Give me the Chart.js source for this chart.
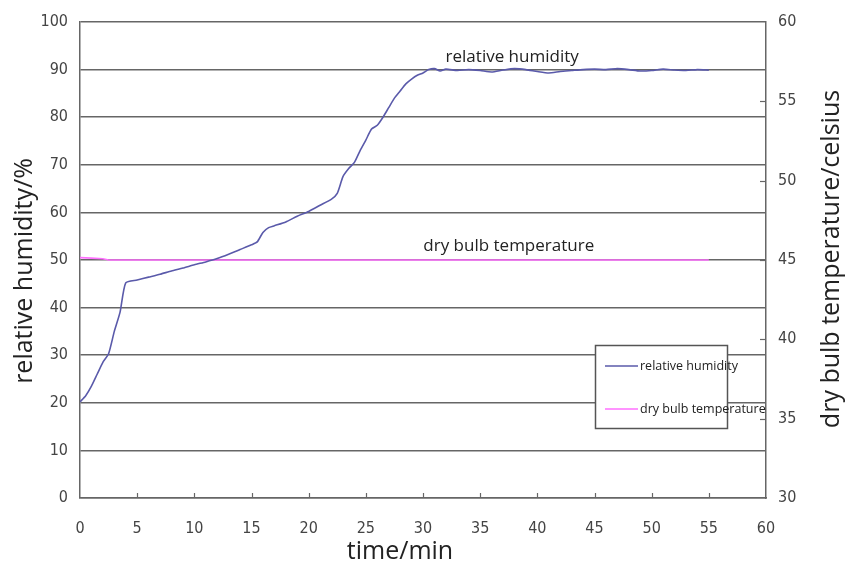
<!DOCTYPE html>
<html>
<head>
<meta charset="utf-8">
<script src="https://cdn.jsdelivr.net/npm/chart.js@4/dist/chart.umd.min.js"></script>
<style>
  html, body { margin: 0; background: #fff; }
  canvas { display: block; }
</style>
</head>
<body>
<canvas id="chart" width="850" height="570"></canvas>
<script>
/* data */
const TIME_RH = [0, 0.5, 1, 1.5, 2, 2.5, 3, 3.5, 4, 5, 6, 7, 8, 9, 10, 11, 12, 13, 14, 15,
  15.5, 16, 16.5, 17, 18, 19, 20, 21, 22, 22.5, 23, 23.5, 24, 24.5, 25, 25.5, 26, 26.5,
  27, 27.5, 28, 28.5, 29, 29.5, 30, 30.5, 31, 31.5, 32, 33, 34, 35, 36, 37, 38, 39, 40,
  41, 42, 43, 44, 45, 46, 47, 48, 49, 50, 51, 52, 53, 54, 55];
const RH = [20.2, 21.5, 23.5, 26, 28.5, 30.3, 35, 39, 45.2, 45.8, 46.4, 47, 47.7, 48.3, 49, 49.6, 50.3, 51.2, 52.2, 53.2,
  53.8, 55.8, 56.8, 57.2, 58, 59.2, 60.2, 61.5, 62.8, 64, 67.5, 69.2, 70.5, 73, 75.2, 77.5, 78.3, 80,
  82, 84, 85.5, 87, 88, 88.8, 89.3, 90, 90.2, 89.7, 90.1, 89.8, 90, 89.8, 89.5, 89.9, 90.2, 90, 89.6,
  89.3, 89.6, 89.8, 90, 90.1, 90, 90.2, 90, 89.7, 89.8, 90.1, 89.9, 89.8, 90, 89.9];

const TIME_T = [0, 1, 2, 2.5, 55];
const TEMP   = [45.15, 45.12, 45.08, 45, 45];

const LABEL_RH   = 'relative humidity';
const LABEL_TEMP = 'dry bulb temperature';
const TITLE_X  = 'time/min';
const TITLE_Y  = 'relative humidity/%';
const TITLE_Y2 = 'dry bulb temperature/celsius';

/* fonts and colours */
const TICK_FONT  = "'Liberation Sans Narrow', 'DejaVu Sans Condensed', sans-serif";
const TITLE_FONT = "'Open Sans', sans-serif";
const C = {
  rh   : '#5a5aaa',
  temp : '#ff70ff',
  grid : '#666666',
  tick : '#444444',
  text : '#222222',
};

const fixSize = (w, h) => s => { if (w) s.width = w; if (h) s.height = h; };

/* axis titles, in-chart text, inward ticks, boxed legend */
const decor = {
  id: 'decor',
  afterDraw(chart) {
    const { ctx, scales: { x, y, y2 }, chartArea: a } = chart;
    ctx.save();
    ctx.strokeStyle = C.grid;
    ctx.lineWidth = 1.2;
    for (let v = 5; v < 60; v += 5) {
      const px = Math.round(x.getPixelForValue(v)) + 0.5;
      ctx.beginPath(); ctx.moveTo(px, a.bottom); ctx.lineTo(px, a.bottom - 5); ctx.stroke();
    }
    for (let v = 35; v < 60; v += 5) {
      const py = Math.round(y2.getPixelForValue(v)) + 0.5;
      ctx.beginPath(); ctx.moveTo(a.right, py); ctx.lineTo(a.right - 6, py); ctx.stroke();
    }

    // axis titles
    ctx.fillStyle = C.text;
    ctx.font = '25px ' + TITLE_FONT;
    ctx.textAlign = 'center';
    ctx.textBaseline = 'middle';
    ctx.fillText(TITLE_X, 400, 552);
    [[TITLE_Y, 25, 271], [TITLE_Y2, 832, 259]].forEach(([t, cx, cy]) => {
      ctx.save();
      ctx.translate(cx, cy);
      ctx.rotate(-Math.PI / 2);
      ctx.fillText(t, 0, 0);
      ctx.restore();
    });

    ctx.font = '17px ' + TITLE_FONT;
    ctx.textBaseline = 'alphabetic';
    ctx.fillText(LABEL_RH, x.getPixelForValue(37.8), y.getPixelForValue(91.5));
    ctx.fillText(LABEL_TEMP, x.getPixelForValue(37.5), y.getPixelForValue(51.9));

    // legend box
    ctx.fillStyle = '#fff';
    ctx.fillRect(595, 345, 132, 83);
    ctx.strokeStyle = '#555';
    ctx.lineWidth = 1.5;
    ctx.strokeRect(595.5, 345.5, 132, 83);
    const items = [[LABEL_RH, C.rh, 366], [LABEL_TEMP, C.temp, 409]];
    ctx.font = '12.5px ' + TITLE_FONT;
    ctx.textAlign = 'left';
    ctx.textBaseline = 'middle';
    items.forEach(([t, col, yy]) => {
      ctx.strokeStyle = col;
      ctx.lineWidth = 1.5;
      ctx.beginPath(); ctx.moveTo(605, yy); ctx.lineTo(638, yy); ctx.stroke();
      ctx.fillStyle = C.text;
      ctx.fillText(t, 640, yy);
    });
    ctx.restore();
  }
};

new Chart(document.getElementById('chart'), {
  type: 'line',
  data: {
    datasets: [
      {
        label: LABEL_RH,
        data: TIME_RH.map((t, i) => ({ x: t, y: RH[i] })),
        borderColor: C.rh,
        borderWidth: 1.6,
        pointRadius: 0,
        tension: 0.2,
        yAxisID: 'y',
      },
      {
        label: LABEL_TEMP,
        data: TIME_T.map((t, i) => ({ x: t, y: TEMP[i] })),
        borderColor: C.temp,
        borderWidth: 1.6,
        pointRadius: 0,
        yAxisID: 'y2',
      }
    ]
  },
  options: {
    responsive: false,
    devicePixelRatio: 1,
    animation: false,
    layout: { padding: { top: 22, left: 0, right: 0, bottom: 0 } },
    plugins: { legend: { display: false }, tooltip: { enabled: false } },
    scales: {
      x: {
        type: 'linear', min: 0, max: 60,
        afterFit: fixSize(0, 72),
        grid: { display: false },
        border: { display: true, color: C.grid, width: 1.5 },
        ticks: { stepSize: 5, color: C.tick, padding: 13, maxRotation: 0,
                 font: { family: TICK_FONT, size: 16 } }
      },
      y: {
        position: 'left', min: 0, max: 100,
        afterFit: fixSize(80, 0),
        grid: { color: C.grid, lineWidth: 1.5, drawTicks: false },
        border: { display: true, color: C.grid, width: 1.5 },
        ticks: { stepSize: 10, color: C.tick, padding: 12,
                 font: { family: TICK_FONT, size: 16 } }
      },
      y2: {
        position: 'right', min: 30, max: 60,
        afterFit: fixSize(84, 0),
        grid: { drawOnChartArea: false, drawTicks: false },
        border: { display: true, color: C.grid, width: 1.5 },
        ticks: { stepSize: 5, color: C.tick, padding: 12,
                 font: { family: TICK_FONT, size: 16 } }
      }
    }
  },
  plugins: [decor]
});
</script>
</body>
</html>
